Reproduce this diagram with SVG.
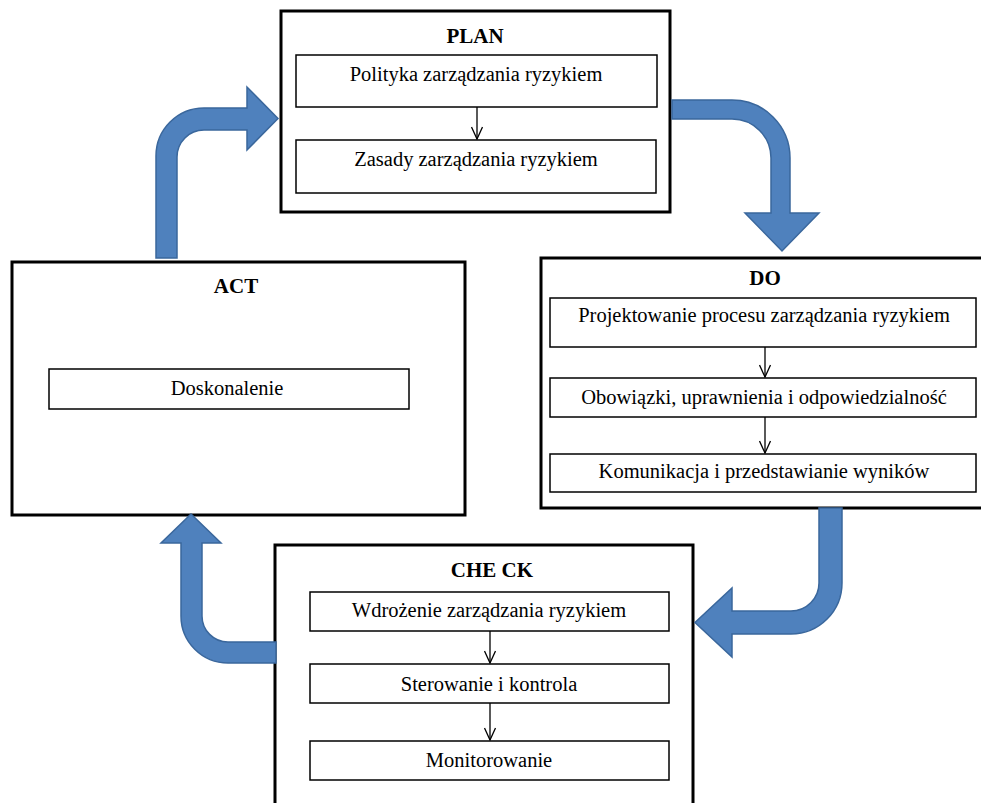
<svg xmlns="http://www.w3.org/2000/svg" width="981" height="803" viewBox="0 0 981 803">
<style>
.outer{fill:#fff;stroke:#000;stroke-width:3}
.inner{fill:#fff;stroke:#000;stroke-width:1.5}
.title{font-size:21px;font-weight:bold;text-anchor:middle;fill:#000}
.lbl{font-size:20.5px;text-anchor:middle;fill:#000}
.blue{fill:#4F81BD;stroke:#3A679C;stroke-width:1.5;stroke-linejoin:miter}
.conn{stroke:#000;stroke-width:1.3;fill:none;marker-end:url(#vhead)}
</style>
<defs>
<marker id="vhead" viewBox="0 0 14 12" refX="13" refY="6" markerWidth="14" markerHeight="12" markerUnits="userSpaceOnUse" orient="auto">
<path d="M1,0.5 L13,6 L1,11.5" fill="none" stroke="#000" stroke-width="1.3"/>
</marker>
</defs>
<rect width="981" height="803" fill="#fff"/>

<g font-family="'Liberation Serif', 'Times New Roman', Times, serif">
<g id="plan">
<rect class="outer" x="281" y="11" width="389" height="201"/>
<text class="title" x="475" y="43">PLAN</text>
<rect class="inner" x="296" y="55" width="361" height="52"/>
<text class="lbl" x="476" y="81">Polityka zarządzania ryzykiem</text>
<rect class="inner" x="296" y="140" width="360" height="53"/>
<text class="lbl" x="476" y="166">Zasady zarządzania ryzykiem</text>
</g>

<g id="do">
<rect class="outer" x="541" y="258" width="445" height="250"/>
<text class="title" x="765" y="285">DO</text>
<rect class="inner" x="550" y="298" width="426" height="49"/>
<text class="lbl" x="764" y="322">Projektowanie procesu zarządzania ryzykiem</text>
<rect class="inner" x="550" y="378" width="426" height="39"/>
<text class="lbl" x="764" y="404">Obowiązki, uprawnienia i odpowiedzialność</text>
<rect class="inner" x="550" y="454" width="426" height="38"/>
<text class="lbl" x="764" y="478">Komunikacja i przedstawianie wyników</text>
</g>

<g id="check">
<rect class="outer" x="275" y="545" width="418" height="270"/>
<text class="title" x="492" y="577">CHE CK</text>
<rect class="inner" x="310" y="592" width="359" height="39"/>
<text class="lbl" x="489" y="617">Wdrożenie zarządzania ryzykiem</text>
<rect class="inner" x="310" y="664" width="359" height="39"/>
<text class="lbl" x="489" y="691">Sterowanie i kontrola</text>
<rect class="inner" x="310" y="741" width="359" height="39"/>
<text class="lbl" x="489" y="767">Monitorowanie</text>
</g>

<g id="act">
<rect class="outer" x="12" y="262" width="453" height="253"/>
<text class="title" x="236" y="293">ACT</text>
<rect class="inner" x="49" y="369" width="360" height="40"/>
<text class="lbl" x="227" y="395">Doskonalenie</text>
</g>
</g>

<g id="connectors">
<line class="conn" x1="477" y1="107" x2="477" y2="139"/>
<line class="conn" x1="765" y1="347" x2="765" y2="377"/>
<line class="conn" x1="765" y1="417" x2="765" y2="453"/>
<line class="conn" x1="490" y1="631" x2="490" y2="663"/>
<line class="conn" x1="490" y1="703" x2="490" y2="740"/>
<path class="blue" d="M156,258 L156,156 A48,48 0 0 1 204,108 L247,108 L247,87 L278,118.5 L247,150 L247,130 L204,130 A27,27 0 0 0 177,157 L177,258 Z"/>
<path class="blue" d="M672,100 L732,100 A58,58 0 0 1 790,158 L790,213 L819,213 L782,251 L745,213 L771,213 L771,158 A39,39 0 0 0 732,119 L672,119 Z"/>
<path class="blue" d="M819,508 L842,508 L842,583 A51,51 0 0 1 791,634 L732,634 L732,657 L695,622.5 L732,588 L732,611 L791,611 A28,28 0 0 0 819,583 Z"/>
<path class="blue" d="M276,642 L228,642 A26,26 0 0 1 202,616 L202,543 L221,543 L191,514 L161,543 L181,543 L181,616 A47,47 0 0 0 228,663 L276,663 Z"/>
</g>
</svg>
